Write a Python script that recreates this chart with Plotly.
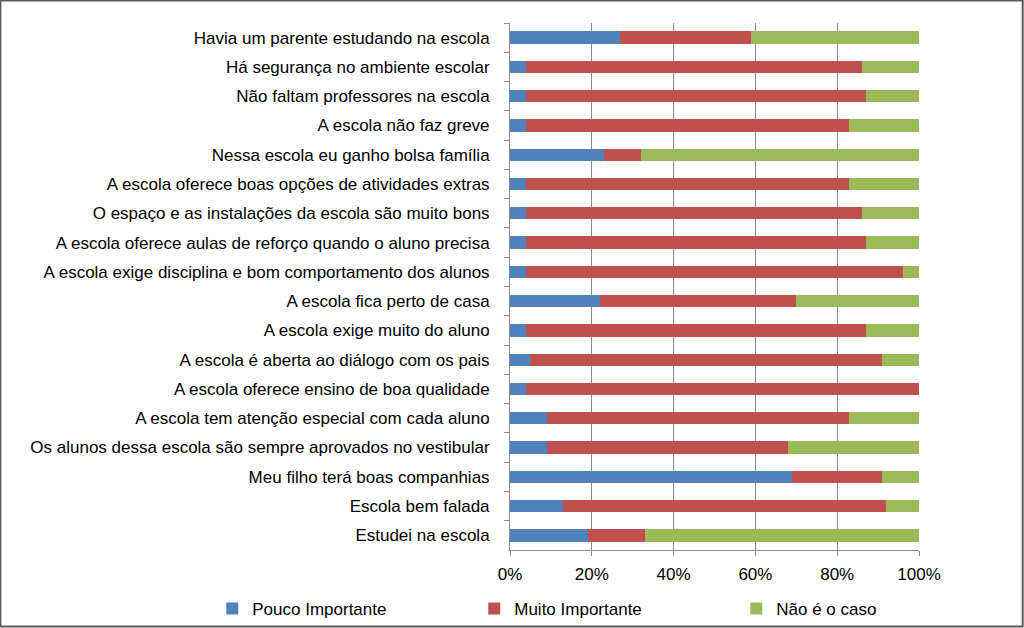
import plotly.graph_objects as go

categories = [
    "Havia um parente estudando na escola",
    "Há segurança no ambiente escolar",
    "Não faltam professores na escola",
    "A escola não faz greve",
    "Nessa escola eu ganho bolsa família",
    "A escola oferece boas opções de atividades extras",
    "O espaço e as instalações da escola são muito bons",
    "A escola oferece aulas de reforço quando o aluno precisa",
    "A escola exige disciplina e bom comportamento dos alunos",
    "A escola fica perto de casa",
    "A escola exige muito do aluno",
    "A escola é aberta ao diálogo com os pais",
    "A escola oferece ensino de boa qualidade",
    "A escola tem atenção especial com cada aluno",
    "Os alunos dessa escola são sempre aprovados no vestibular",
    "Meu filho terá boas companhias",
    "Escola bem falada",
    "Estudei na escola",
]
pouco = [27, 4, 4, 4, 23, 4, 4, 4, 4, 22, 4, 5, 4, 9, 9, 69, 13, 19]
muito = [32, 82, 83, 79, 9, 79, 82, 83, 92, 48, 83, 86, 96, 74, 59, 22, 79, 14]
nao = [41, 14, 13, 17, 68, 17, 14, 13, 4, 30, 13, 9, 0, 17, 32, 9, 8, 67]
x_ticks = [0, 20, 40, 60, 80, 100]
x_labels = ["0%", "20%", "40%", "60%", "80%", "100%"]

font = "Liberation Sans"
fig = go.Figure()
for name, vals, col in [
    ("Pouco Importante", pouco, "#4F81BD"),
    ("Muito Importante", muito, "#C0504D"),
    ("Não é o caso", nao, "#9BBB59"),
]:
    fig.add_trace(go.Bar(y=categories, x=vals, name=name, orientation="h",
                         marker=dict(color=col, line=dict(width=0))))

fig.update_layout(
    barmode="stack",
    bargap=0.58,
    width=1024, height=628,
    margin=dict(l=510, r=105, t=23, b=78, autoexpand=False),
    paper_bgcolor="white", plot_bgcolor="white",
    font=dict(family=font, size=17, color="#000000"),
    showlegend=True,
    legend=dict(orientation="h", x=-0.728, y=-0.112, xanchor="left", yanchor="middle",
                entrywidth=217, entrywidthmode="pixels",
                bgcolor="rgba(0,0,0,0)",
                font=dict(size=17), traceorder="normal",
                itemwidth=30),
    xaxis=dict(range=[0, 100], tickvals=x_ticks, ticktext=x_labels,
               showgrid=True, gridcolor="#8C8C8C", gridwidth=1,
               showline=True, linecolor="#8C8C8C", linewidth=1,
               ticks="outside", ticklen=5, tickcolor="#8C8C8C",
               zeroline=False, tickfont=dict(size=17), ticklabelstandoff=4),
    yaxis=dict(autorange="reversed", showline=True, linecolor="#8C8C8C", linewidth=1,
               ticks="outside", ticklen=5, tickcolor="#8C8C8C", tickson="boundaries",
               showgrid=False, tickfont=dict(size=17), ticklabelstandoff=16),
    shapes=[dict(type="rect", xref="paper", yref="paper",
                 x0=-1.246, x1=1.2535, y0=-0.1452, y1=1.0427,
                 line=dict(color="#5A5A5A", width=2), fillcolor="rgba(0,0,0,0)")],
)
fig.write_html("out.html", config={"displayModeBar": False},
               post_script="document.body.style.margin='0';document.body.style.overflow='hidden';")
